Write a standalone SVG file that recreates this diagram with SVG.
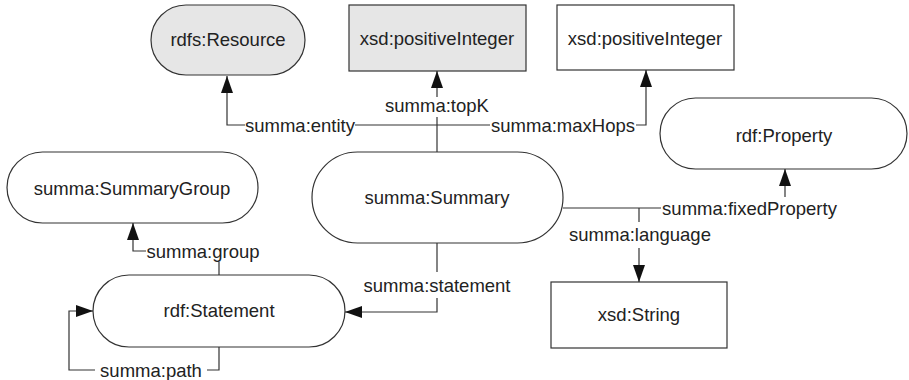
<svg xmlns="http://www.w3.org/2000/svg" width="909" height="380" viewBox="0 0 909 380">
  <style>
    .shape { stroke: #333; stroke-width: 1.2; fill: #fff; }
    .grey { fill: #e6e6e6; }
    .label { font-family: "Liberation Sans", Arial, sans-serif; font-size: 18.5px; fill: #222; text-anchor: middle; }
    .edge { fill: none; stroke: #333; stroke-width: 1.2; }
  </style>
  <defs>
    <marker id="arrow" viewBox="0 0 17 12" refX="17" refY="6" markerWidth="17" markerHeight="12" markerUnits="userSpaceOnUse" orient="auto">
      <path d="M0,0 L17,6 L0,12 z" fill="#111"/>
    </marker>
  </defs>
  <rect width="909" height="380" fill="#fff"/>

  <g id="rdfs-resource">
    <rect class="shape grey" x="151" y="5" width="154" height="70" rx="35" ry="35"/>
    <text class="label" x="228" y="46">rdfs:Resource</text>
  </g>
  <g id="xsd-positiveInteger-topk">
    <rect class="shape grey" x="349" y="5" width="177" height="66"/>
    <text class="label" x="437" y="45">xsd:positiveInteger</text>
  </g>
  <g id="xsd-positiveInteger-maxhops">
    <rect class="shape" x="557" y="5" width="177" height="65"/>
    <text class="label" x="645" y="45">xsd:positiveInteger</text>
  </g>
  <g id="rdf-property">
    <rect class="shape" x="660" y="98" width="247" height="71" rx="35.5" ry="35.5"/>
    <text class="label" x="784" y="142">rdf:Property</text>
  </g>
  <g id="summa-summarygroup">
    <rect class="shape" x="7" y="152" width="251" height="71" rx="35.5" ry="35.5"/>
    <text class="label" x="132" y="195">summa:SummaryGroup</text>
  </g>
  <g id="summa-summary">
    <rect class="shape" x="312" y="152" width="251" height="91" rx="45.5" ry="45.5"/>
    <text class="label" x="437" y="204">summa:Summary</text>
  </g>
  <g id="rdf-statement">
    <rect class="shape" x="93" y="275" width="252" height="72" rx="36" ry="36"/>
    <text class="label" x="219" y="317">rdf:Statement</text>
  </g>
  <g id="xsd-string">
    <rect class="shape" x="551" y="282" width="176" height="66"/>
    <text class="label" x="639" y="321">xsd:String</text>
  </g>

  <g id="connectors">
    <!-- summa:entity -->
    <path class="edge" d="M355,125 H437"/>
    <path class="edge" d="M245,125 H227 V76" marker-end="url(#arrow)"/>
    <text class="label" x="300" y="131.5">summa:entity</text>
    <!-- summa:topK -->
    <path class="edge" d="M437,152 V117"/>
    <path class="edge" d="M437,97 V71" marker-end="url(#arrow)"/>
    <text class="label" x="437" y="112">summa:topK</text>
    <!-- summa:maxHops -->
    <path class="edge" d="M437,125 H490"/>
    <path class="edge" d="M636,125 H646 V70" marker-end="url(#arrow)"/>
    <text class="label" x="563" y="131.5">summa:maxHops</text>
    <!-- summa:fixedProperty -->
    <path class="edge" d="M563,208 H661"/>
    <path class="edge" d="M785,197 V169" marker-end="url(#arrow)"/>
    <text class="label" x="749.5" y="214.5">summa:fixedProperty</text>
    <!-- summa:language -->
    <path class="edge" d="M639,208 V222"/>
    <path class="edge" d="M639,248 V282" marker-end="url(#arrow)"/>
    <text class="label" x="640" y="241">summa:language</text>
    <!-- summa:statement -->
    <path class="edge" d="M437,243 V272"/>
    <path class="edge" d="M437,298 V312 H345" marker-end="url(#arrow)"/>
    <text class="label" x="437" y="291.5">summa:statement</text>
    <!-- summa:group -->
    <path class="edge" d="M219,275 V262"/>
    <path class="edge" d="M146,251 H133 V223" marker-end="url(#arrow)"/>
    <text class="label" x="203" y="258">summa:group</text>
    <!-- summa:path -->
    <path class="edge" d="M219,347 V370 H207"/>
    <path class="edge" d="M95,370 H69 V311 H93" marker-end="url(#arrow)"/>
    <text class="label" x="151" y="376.5">summa:path</text>
  </g>
</svg>
